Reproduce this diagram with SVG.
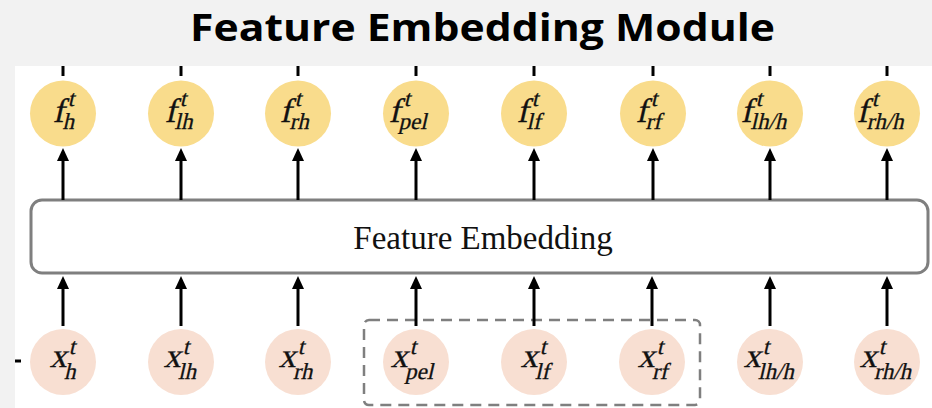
<svg xmlns="http://www.w3.org/2000/svg" width="932" height="408" viewBox="0 0 932 408">
  <defs>
    <marker id="ah" markerUnits="userSpaceOnUse" markerWidth="14" markerHeight="14" viewBox="0 0 14 14" refX="5" refY="7" orient="auto">
      <path d="M0,1 L13,7 L0,13 Z" fill="#000"/>
    </marker>
    <style>
      .title { font-family: "Open Sans", "Liberation Sans", sans-serif; font-weight: 700; font-size: 38px; fill: #000; }
      .box { fill: #fff; stroke: #7f7f7f; stroke-width: 3; }
      .boxlbl { font-family: "Liberation Serif", "Times New Roman", serif; font-size: 33px; fill: #111; }
      .feat { fill: #f9dc8c; }
      .inp { fill: #f8dfd2; }
      .m { font-family: "Liberation Serif", "Times New Roman", serif; fill: #111; stroke: #111; stroke-width: 0.3; }
      .big { font-size: 34px; text-anchor: end; }
      .sc { font-size: 23px; text-anchor: start; }
      .arrow { stroke: #000; stroke-width: 3; fill: none; marker-end: url(#ah); }
      .stub { stroke: #000; stroke-width: 3; }
      .group { fill: none; stroke: #7f7f7f; stroke-width: 2.5; stroke-dasharray: 11 7; }
    </style>
  </defs>

  <!-- page background and white panel -->
  <rect x="0" y="0" width="932" height="408" fill="#f2f2f2"/>
  <rect x="15" y="66" width="917" height="342" fill="#fff"/>

  <text class="title" x="482.5" y="41" text-anchor="middle" textLength="585" lengthAdjust="spacingAndGlyphs">Feature Embedding Module</text>

  <!-- embedding block -->
  <g id="feature-embedding">
    <rect class="box" x="31" y="200" width="897" height="73" rx="11"/>
    <text class="boxlbl" x="483" y="249" text-anchor="middle">Feature Embedding</text>
  </g>

  <!-- dashed grouping of pelvis and feet inputs -->
  <rect id="lower-body-group" class="group" x="364" y="320" width="336" height="85" rx="5"/>

  <!-- connectors -->
  <g id="connectors">
    <g class="stub">
      <line x1="63" y1="66" x2="63" y2="76"/>
      <line x1="181" y1="66" x2="181" y2="76"/>
      <line x1="298" y1="66" x2="298" y2="76"/>
      <line x1="416" y1="66" x2="416" y2="76"/>
      <line x1="534" y1="66" x2="534" y2="76"/>
      <line x1="653" y1="66" x2="653" y2="76"/>
      <line x1="770" y1="66" x2="770" y2="76"/>
      <line x1="887" y1="66" x2="887" y2="76"/>
      <line x1="15" y1="361" x2="21" y2="361"/>
    </g>
    <g>
      <line class="arrow" x1="63" y1="200" x2="63" y2="156"/>
      <line class="arrow" x1="181" y1="200" x2="181" y2="156"/>
      <line class="arrow" x1="298" y1="200" x2="298" y2="156"/>
      <line class="arrow" x1="416" y1="200" x2="416" y2="156"/>
      <line class="arrow" x1="534" y1="200" x2="534" y2="156"/>
      <line class="arrow" x1="653" y1="200" x2="653" y2="156"/>
      <line class="arrow" x1="770" y1="200" x2="770" y2="156"/>
      <line class="arrow" x1="887" y1="200" x2="887" y2="156"/>
      <line class="arrow" x1="63" y1="326" x2="63" y2="284"/>
      <line class="arrow" x1="181" y1="326" x2="181" y2="284"/>
      <line class="arrow" x1="298" y1="326" x2="298" y2="284"/>
      <line class="arrow" x1="416" y1="326" x2="416" y2="284"/>
      <line class="arrow" x1="534" y1="326" x2="534" y2="284"/>
      <line class="arrow" x1="652" y1="326" x2="652" y2="284"/>
      <line class="arrow" x1="770" y1="326" x2="770" y2="284"/>
      <line class="arrow" x1="887" y1="326" x2="887" y2="284"/>
    </g>
  </g>

  <!-- output features: slanted serif symbols, joint point at the label origin -->
  <g id="f-h">
    <circle class="feat" cx="63" cy="113.5" r="33"/>
    <g transform="translate(65,113.5) skewX(-13)">
      <text class="m big" x="1" y="8">f</text>
      <text class="m sc" x="1" y="-8">t</text>
      <text class="m sc" x="1" y="15">h</text>
    </g>
  </g>
  <g id="f-lh">
    <circle class="feat" cx="181" cy="113.5" r="33"/>
    <g transform="translate(177,113.5) skewX(-13)">
      <text class="m big" x="1" y="8">f</text>
      <text class="m sc" x="1" y="-8">t</text>
      <text class="m sc" x="1" y="15">lh</text>
    </g>
  </g>
  <g id="f-rh">
    <circle class="feat" cx="298" cy="113.5" r="33"/>
    <g transform="translate(292,113.5) skewX(-13)">
      <text class="m big" x="1" y="8">f</text>
      <text class="m sc" x="1" y="-8">t</text>
      <text class="m sc" x="1" y="15">rh</text>
    </g>
  </g>
  <g id="f-pel">
    <circle class="feat" cx="416" cy="113.5" r="33"/>
    <g transform="translate(401,113.5) skewX(-13)">
      <text class="m big" x="1" y="8">f</text>
      <text class="m sc" x="1" y="-8">t</text>
      <text class="m sc" x="1" y="15">pel</text>
    </g>
  </g>
  <g id="f-lf">
    <circle class="feat" cx="534" cy="113.5" r="33"/>
    <g transform="translate(529,113.5) skewX(-13)">
      <text class="m big" x="1" y="8">f</text>
      <text class="m sc" x="1" y="-8">t</text>
      <text class="m sc" x="1" y="15">lf</text>
    </g>
  </g>
  <g id="f-rf">
    <circle class="feat" cx="653" cy="113.5" r="33"/>
    <g transform="translate(648,113.5) skewX(-13)">
      <text class="m big" x="1" y="8">f</text>
      <text class="m sc" x="1" y="-8">t</text>
      <text class="m sc" x="1" y="15">rf</text>
    </g>
  </g>
  <g id="f-lh-h">
    <circle class="feat" cx="770" cy="113.5" r="33"/>
    <g transform="translate(753,113.5) skewX(-13)">
      <text class="m big" x="1" y="8">f</text>
      <text class="m sc" x="1" y="-8">t</text>
      <text class="m sc" x="1" y="15">lh/h</text>
    </g>
  </g>
  <g id="f-rh-h">
    <circle class="feat" cx="887" cy="113.5" r="33"/>
    <g transform="translate(869,113.5) skewX(-13)">
      <text class="m big" x="1" y="8">f</text>
      <text class="m sc" x="1" y="-8">t</text>
      <text class="m sc" x="1" y="15">rh/h</text>
    </g>
  </g>

  <!-- input joints -->
  <g id="x-h">
    <circle class="inp" cx="63" cy="362" r="33"/>
    <g transform="translate(67,362) skewX(-13)">
      <text class="m big" x="1" y="5">x</text>
      <text class="m sc" x="0" y="-8">t</text>
      <text class="m sc" x="1" y="17">h</text>
    </g>
  </g>
  <g id="x-lh">
    <circle class="inp" cx="181" cy="362" r="33"/>
    <g transform="translate(181,362) skewX(-13)">
      <text class="m big" x="1" y="5">x</text>
      <text class="m sc" x="0" y="-8">t</text>
      <text class="m sc" x="1" y="17">lh</text>
    </g>
  </g>
  <g id="x-rh">
    <circle class="inp" cx="298" cy="362" r="33"/>
    <g transform="translate(296,362) skewX(-13)">
      <text class="m big" x="1" y="5">x</text>
      <text class="m sc" x="0" y="-8">t</text>
      <text class="m sc" x="1" y="17">rh</text>
    </g>
  </g>
  <g id="x-pel">
    <circle class="inp" cx="416" cy="362" r="33"/>
    <g transform="translate(408,362) skewX(-13)">
      <text class="m big" x="1" y="5">x</text>
      <text class="m sc" x="0" y="-8">t</text>
      <text class="m sc" x="1" y="17">pel</text>
    </g>
  </g>
  <g id="x-lf">
    <circle class="inp" cx="534" cy="362" r="33"/>
    <g transform="translate(538,362) skewX(-13)">
      <text class="m big" x="1" y="5">x</text>
      <text class="m sc" x="0" y="-8">t</text>
      <text class="m sc" x="1" y="17">lf</text>
    </g>
  </g>
  <g id="x-rf">
    <circle class="inp" cx="652" cy="362" r="33"/>
    <g transform="translate(655,362) skewX(-13)">
      <text class="m big" x="1" y="5">x</text>
      <text class="m sc" x="0" y="-8">t</text>
      <text class="m sc" x="1" y="17">rf</text>
    </g>
  </g>
  <g id="x-lh-h">
    <circle class="inp" cx="770" cy="362" r="33"/>
    <g transform="translate(761,362) skewX(-13)">
      <text class="m big" x="1" y="5">x</text>
      <text class="m sc" x="0" y="-8">t</text>
      <text class="m sc" x="1" y="17">lh/h</text>
    </g>
  </g>
  <g id="x-rh-h">
    <circle class="inp" cx="887" cy="362" r="33"/>
    <g transform="translate(877,362) skewX(-13)">
      <text class="m big" x="1" y="5">x</text>
      <text class="m sc" x="0" y="-8">t</text>
      <text class="m sc" x="1" y="17">rh/h</text>
    </g>
  </g>
</svg>
